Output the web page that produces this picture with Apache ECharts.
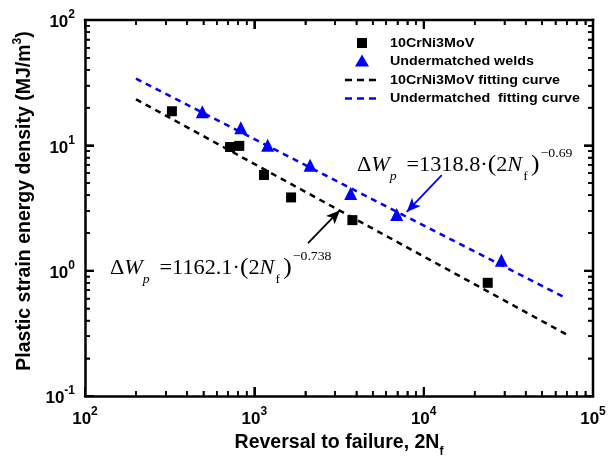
<!DOCTYPE html>
<html><head><meta charset="utf-8">
<script src="https://cdn.jsdelivr.net/npm/echarts@6/dist/echarts.min.js"></script>
<style>html,body{margin:0;padding:0;background:#fff}#c{width:609px;height:457px}</style>
</head><body><div id="c"></div>
<script>
// Data
const steelX = [326, 719, 815, 1140, 1648, 3795, 23900];
const steelY = [18.7, 9.7, 9.9, 5.8, 3.84, 2.53, 0.80];
const weldX = [493, 832, 1199, 2134, 3706, 6930, 28770];
const weldY = [18.5, 13.8, 10.0, 6.95, 4.13, 2.81, 1.21];
const steelFitX = [200, 70000];
const steelFitY = [23.3, 0.309];
const weldFitX = [200, 70000];
const weldFitY = [34.1, 0.599];
const xMajorTicks = [100, 1000, 10000, 100000];
const yMajorTicks = [0.1, 1, 10, 100];
const xMinorTicks = [200,300,400,500,600,700,800,900,2000,3000,4000,5000,6000,7000,8000,9000,20000,30000,40000,50000,60000,70000,80000,90000];
const yMinorTicks = [0.2,0.3,0.4,0.5,0.6,0.7,0.8,0.9,2,3,4,5,6,7,8,9,20,30,40,50,60,70,80,90];
const legendNames = ['10CrNi3MoV', 'Undermatched welds', '10CrNi3MoV fitting curve', 'Undermatched  fitting curve'];
const arrowBlue = [[12790, 5.78], [7940, 2.94]];
const arrowBlack = [[2075, 1.66], [3206, 3.04]];

const zip = (a, b) => a.map((v, i) => [v, b[i]]);
const SANS = 'Liberation Sans, Arial, sans-serif';
const SERIF = 'Liberation Serif, Times New Roman, serif';
const BLUE = '#0000ff';
const X_MIN = 100, X_MAX = 100000, Y_MIN = 0.1, Y_MAX = 100;
const GRID = { left: 85, top: 20, right: 16, bottom: 61 };
const W = 609, H = 457;

function powLabel(v) {
  const e = Math.round(Math.log10(v));
  return '{b|10}{s|' + e + '}';
}
const powRich = {
  b: { fontSize: 17, fontWeight: 'bold', fontFamily: SANS, color: '#000', lineHeight: 22, verticalAlign: 'bottom' },
  s: { fontSize: 12, fontWeight: 'bold', fontFamily: SANS, color: '#000', lineHeight: 12, verticalAlign: 'top' }
};

function formula(coef, exp) {
  return '{d|Δ}{w|W}{p|p}{n| =' + coef + '·}{par|(}{n|2}{w|N}{f|f}{par|)}{sup|' + exp + '}';
}
function formulaRich(color) {
  const base = { fontFamily: SERIF, fontSize: 21, color: color, lineHeight: 36, verticalAlign: 'middle' };
  return {
    d: base,
    n: base,
    w: Object.assign({}, base, { fontStyle: 'italic' }),
    par: Object.assign({}, base, { fontSize: 24 }),
    p: { fontFamily: SERIF, fontSize: 13, fontStyle: 'italic', color: color, lineHeight: 13, verticalAlign: 'bottom', padding: [0, 4, 0, 0] },
    f: { fontFamily: SERIF, fontSize: 13, color: color, lineHeight: 13, verticalAlign: 'bottom', padding: [0, 3, 0, 1] },
    sup: { fontFamily: SERIF, fontSize: 13, color: color, lineHeight: 13, verticalAlign: 'top', padding: [0, 0, 0, 1] }
  };
}

// legend built as graphic elements (symbols + real text)
const legendRowsY = [43, 61.5, 80, 98.5];
const legendX = 362, legendTextX = 390;
function legendGraphic() {
  const g = [];
  g.push({ type: 'rect', shape: { x: legendX - 5, y: legendRowsY[0] - 5, width: 10, height: 10 }, style: { fill: '#000' } });
  g.push({ type: 'polygon', shape: { points: [[legendX, legendRowsY[1] - 7], [legendX + 7, legendRowsY[1] + 5], [legendX - 7, legendRowsY[1] + 5]] }, style: { fill: BLUE } });
  g.push({ type: 'line', shape: { x1: 345, y1: legendRowsY[2], x2: 376, y2: legendRowsY[2] }, style: { stroke: '#000', lineWidth: 2.5, lineDash: [7, 5] } });
  g.push({ type: 'line', shape: { x1: 345, y1: legendRowsY[3], x2: 376, y2: legendRowsY[3] }, style: { stroke: BLUE, lineWidth: 2.5, lineDash: [7, 5] } });
  legendNames.forEach((n, i) => {
    g.push({ type: 'text', x: legendTextX, y: legendRowsY[i], scaleX: 1.1,
      style: { text: n, fontFamily: SANS, fontWeight: 'bold', fontSize: 13, fill: '#000', verticalAlign: 'middle', align: 'left' } });
  });
  return g;
}

// tick segments expressed in data space (inside ticks on all four sides)
const yDecPerPx = (Math.log10(Y_MAX) - Math.log10(Y_MIN)) / (H - GRID.top - GRID.bottom);
const xDecPerPx = (Math.log10(X_MAX) - Math.log10(X_MIN)) / (W - GRID.left - GRID.right);
function tickLines(xs, ys, len, width) {
  const out = [];
  const ls = { color: '#000', width: width, type: 'solid' };
  xs.forEach(v => {
    out.push([{ coord: [v, Y_MIN], lineStyle: ls }, { coord: [v, Y_MIN * Math.pow(10, len * yDecPerPx)] }]);
    out.push([{ coord: [v, Y_MAX], lineStyle: ls }, { coord: [v, Y_MAX / Math.pow(10, len * yDecPerPx)] }]);
  });
  ys.forEach(v => {
    out.push([{ coord: [X_MIN, v], lineStyle: ls }, { coord: [X_MIN * Math.pow(10, len * xDecPerPx), v] }]);
    out.push([{ coord: [X_MAX, v], lineStyle: ls }, { coord: [X_MAX / Math.pow(10, len * xDecPerPx), v] }]);
  });
  return out;
}

const chart = echarts.init(document.getElementById('c'), null, { renderer: 'canvas' });
const baseGraphic = legendGraphic().concat([
  { type: 'text', x: 357, y: 147, scaleX: 1.06, style: { text: formula('1318.8', '−0.69'), rich: formulaRich(BLUE), verticalAlign: 'top' } },
  { type: 'text', x: 110, y: 250, scaleX: 1.06, style: { text: formula('1162.1', '−0.738'), rich: formulaRich('#000'), verticalAlign: 'top' } }
]);
chart.setOption({
  animation: false,
  backgroundColor: '#fff',
  grid: Object.assign({ outerBoundsMode: 'none' }, GRID),
  xAxis: {
    type: 'log', logBase: 10, min: X_MIN, max: X_MAX,
    axisLine: { show: true, onZero: false, lineStyle: { color: '#000', width: 2.5 } },
    axisTick: { show: true, inside: true, length: 9, lineStyle: { color: '#000', width: 2 } },
    splitLine: { show: false },
    axisLabel: { formatter: powLabel, rich: powRich, margin: 10 },
    name: '{t|Reversal to failure, 2N}{sub|f}', nameLocation: 'middle', nameGap: 22,
    nameTextStyle: { rich: {
      t: { fontSize: 19.5, fontWeight: 'bold', fontFamily: SANS, color: '#000', lineHeight: 24, verticalAlign: 'middle' },
      sub: { fontSize: 12, fontWeight: 'bold', fontFamily: SANS, color: '#000', lineHeight: 29, verticalAlign: 'bottom' }
    } }
  },
  yAxis: {
    type: 'log', logBase: 10, min: Y_MIN, max: Y_MAX,
    axisLine: { show: true, onZero: false, lineStyle: { color: '#000', width: 2.5 } },
    axisTick: { show: true, inside: true, length: 9, lineStyle: { color: '#000', width: 2 } },
    splitLine: { show: false },
    axisLabel: { formatter: powLabel, rich: powRich, margin: 10 },
    name: '{t|Plastic strain energy density (MJ/m}{sup|3}{t|)}', nameLocation: 'middle', nameGap: 42,
    nameTextStyle: { padding: [0, 0, 0, 14], rich: {
      t: { fontSize: 19.5, fontWeight: 'bold', fontFamily: SANS, color: '#000', lineHeight: 26, verticalAlign: 'middle' },
      sup: { fontSize: 12, fontWeight: 'bold', fontFamily: SANS, color: '#000', lineHeight: 14, verticalAlign: 'top' }
    } }
  },
  series: [
    {
      name: legendNames[2], type: 'line', data: zip(steelFitX, steelFitY),
      symbol: 'none', showSymbol: false, z: 2,
      lineStyle: { color: '#000', width: 2.5, type: [6, 5] }, itemStyle: { color: '#000' },
      markLine: {
        silent: true, symbol: ['none', 'arrow'], symbolSize: [9, 14], label: { show: false },
        lineStyle: { color: '#000', width: 1.8, type: 'solid' },
        data: [[{ coord: arrowBlack[0] }, { coord: arrowBlack[1] }]]
      }
    },
    {
      name: legendNames[3], type: 'line', data: zip(weldFitX, weldFitY),
      symbol: 'none', showSymbol: false, z: 2,
      lineStyle: { color: BLUE, width: 2.5, type: [6, 5] }, itemStyle: { color: BLUE },
      markLine: {
        silent: true, symbol: ['none', 'arrow'], symbolSize: [9, 14], label: { show: false },
        lineStyle: { color: BLUE, width: 1.8, type: 'solid' },
        data: [[{ coord: arrowBlue[0] }, { coord: arrowBlue[1] }]]
      }
    },
    {
      name: legendNames[0], type: 'scatter', data: zip(steelX, steelY),
      symbol: 'rect', symbolSize: 10, z: 3, itemStyle: { color: '#000', opacity: 1 },
      markLine: {
        silent: true, symbol: ['none', 'none'], label: { show: false },
        lineStyle: { color: '#000', width: 1.5, type: 'solid' },
        data: tickLines(xMajorTicks, yMajorTicks, 9, 2).concat(tickLines(xMinorTicks, yMinorTicks, 5, 1.5))
      }
    },
    {
      name: legendNames[1], type: 'scatter', data: zip(weldX, weldY),
      symbol: 'triangle', symbolSize: 13, z: 3, itemStyle: { color: BLUE, opacity: 1 }
    }
  ],
  graphic: baseGraphic
});

// top/right frame and ticks also as graphic, positioned through the axes' scales
function px(v) {
  try { const r = chart.convertToPixel({ xAxisIndex: 0 }, v); if (isFinite(r)) return r; } catch (e) {}
  return GRID.left + (Math.log10(v) - Math.log10(X_MIN)) / xDecPerPx;
}
function py(v) {
  try { const r = chart.convertToPixel({ yAxisIndex: 0 }, v); if (isFinite(r)) return r; } catch (e) {}
  return H - GRID.bottom - (Math.log10(v) - Math.log10(Y_MIN)) / yDecPerPx;
}
function frameAndTicks() {
  const g = [];
  const xa = px(X_MIN), xb = px(X_MAX), ya = py(Y_MIN), yb = py(Y_MAX);
  const r = (x, y, w, h) => g.push({ type: 'rect', z: 100, shape: { x: x, y: y, width: w, height: h }, style: { fill: '#000' } });
  r(xa - 1.25, yb - 1.25, xb - xa + 2.5, 2.5);
  r(xb - 1.25, yb - 1.25, 2.5, ya - yb + 2.5);
  const xt = (vals, len, w) => vals.forEach(v => { const p = px(v); r(p - w / 2, ya - len, w, len); r(p - w / 2, yb, w, len); });
  const yt = (vals, len, w) => vals.forEach(v => { const p = py(v); r(xa, p - w / 2, len, w); r(xb - len, p - w / 2, len, w); });
  xt(xMajorTicks, 9, 2); yt(yMajorTicks, 9, 2);
  xt(xMinorTicks, 5, 1.5); yt(yMinorTicks, 5, 1.5);
  return g;
}
let extra = [];
try { extra = frameAndTicks(); } catch (e) { extra = []; }
chart.setOption({ graphic: baseGraphic.concat(extra) });
</script></body></html>
